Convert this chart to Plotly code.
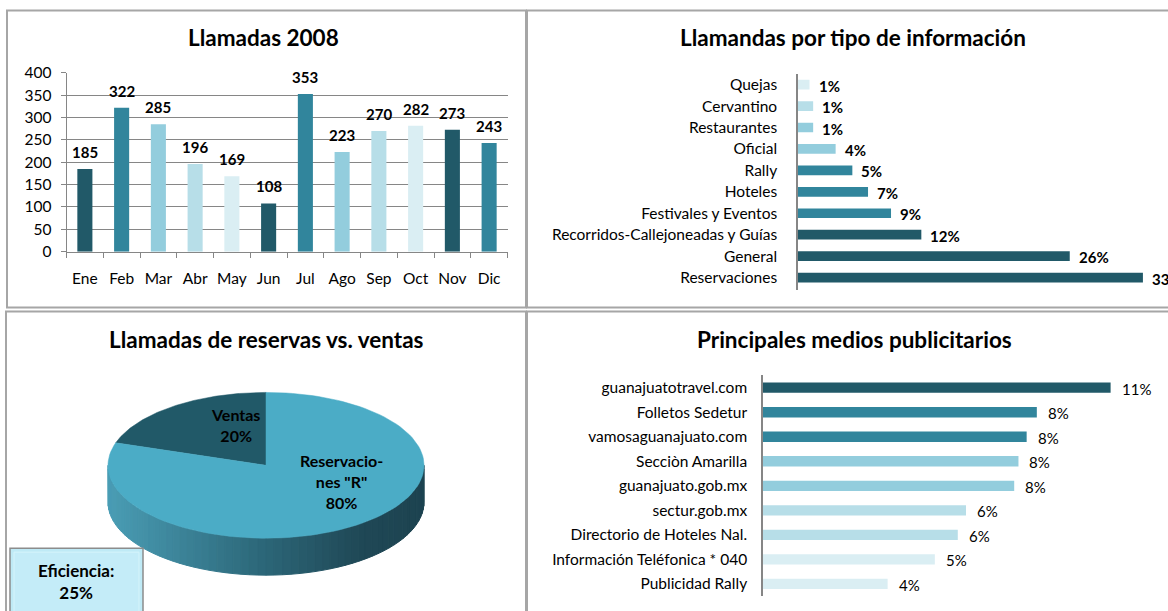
import numpy as np
import plotly.graph_objects as go

W, H = 1168, 611
FONT = "Lato"

# ---------------- data ----------------
months = ["Ene", "Feb", "Mar", "Abr", "May", "Jun", "Jul", "Ago", "Sep", "Oct", "Nov", "Dic"]
calls_2008 = [185, 322, 285, 196, 169, 108, 353, 223, 270, 282, 273, 243]

info_types = ["Reservaciones", "General", "Recorridos-Callejoneadas y Guías", "Festivales y Eventos",
              "Hoteles", "Rally", "Oficial", "Restaurantes", "Cervantino", "Quejas"]
info_share = [33.0, 26.0, 11.8, 8.9, 6.7, 5.2, 3.6, 1.45, 1.45, 1.1]

pie_labels = ["Ventas", "Reservacio-<br>nes \"R\""]
pie_values = [20, 80]
efficiency_pct = 25

media = ["Publicidad Rally", "Información Teléfonica * 040", "Directorio de Hoteles Nal.", "sectur.gob.mx",
         "guanajuato.gob.mx", "Secciòn Amarilla", "vamosaguanajuato.com", "Folletos Sedetur",
         "guanajuatotravel.com"]
media_share = [3.8, 5.24, 5.94, 6.19, 7.66, 7.79, 8.04, 8.35, 10.6]

# ---------------- styles ----------------
DARK, MID, LIGHT, LIGHTER, LIGHTEST = "#215968", "#31859C", "#93CDDD", "#B7DEE8", "#DAEEF3"
month_colors = [DARK, MID, LIGHT, LIGHTER, LIGHTEST] * 2 + [DARK, MID]
info_colors = [DARK, DARK, DARK, MID, MID, MID, LIGHT, LIGHT, LIGHTER, LIGHTEST]
media_colors = [LIGHTEST, LIGHTEST, LIGHTER, LIGHTER, LIGHT, LIGHT, MID, MID, DARK]
PIE_COLORS = [DARK, "#4BACC6"]
AXIS = "#868686"
TITLE_SIZE = 22.5
TICK_SIZE = 15.5
LABEL_SIZE = 15

# vertical placement calibration (observed rendering offset/scale)
OFF, SC = 9.0, 0.972


def xp(px):
    return px / W


def yp(py):
    return 1 - (py - OFF) / SC / H


fig = go.Figure()

fig.add_trace(go.Bar(x=months, y=calls_2008, marker=dict(color=month_colors, line=dict(width=0)),
                     width=0.41, xaxis="x", yaxis="y", hoverinfo="x+y"))
fig.add_trace(go.Bar(y=info_types, x=info_share, orientation="h", width=0.45,
                     marker=dict(color=info_colors, line=dict(width=0)), xaxis="x2", yaxis="y2"))
fig.add_trace(go.Bar(y=media, x=media_share, orientation="h", width=0.42,
                     marker=dict(color=media_colors, line=dict(width=0)), xaxis="x3", yaxis="y3"))

# ---- 3D-looking pie built from the values ----
cx, cy, rx, ry, depth = 266, 465, 158, 73, 37
total = sum(pie_values)
angles = [90.0]
for v in pie_values:
    angles.append(angles[-1] + 360.0 * v / total)


def ell(a_deg, dy=0.0):
    a = np.radians(a_deg)
    return cx + rx * np.cos(a), cy - ry * np.sin(a) + dy


def lerp_color(t):
    stops = [(0.0, (0x4A, 0x9D, 0xB5)), (0.45, (0x2E, 0x6B, 0x7D)), (0.8, (0x1F, 0x48, 0x56)),
             (1.0, (0x1D, 0x43, 0x50))]
    for (t0, c0), (t1, c1) in zip(stops[:-1], stops[1:]):
        if t <= t1:
            f = (t - t0) / (t1 - t0)
            c = [int(round(c0[i] + f * (c1[i] - c0[i]))) for i in range(3)]
            return "rgb(%d,%d,%d)" % tuple(c)
    return "rgb(%d,%d,%d)" % stops[-1][1]


for i in range(len(pie_values)):
    a0, a1 = angles[i], angles[i + 1]
    for base in (0, 360):
        s0, s1 = max(a0, 180 + base), min(a1, 360 + base)
        if s1 <= s0:
            continue
        n = max(2, int((s1 - s0) / 3))
        edges = np.linspace(s0, s1, n + 1)
        for e0, e1 in zip(edges[:-1], edges[1:]):
            mid_x, _ = ell((e0 + e1) / 2)
            col = lerp_color((mid_x - (cx - rx)) / (2 * rx))
            seg = np.linspace(e0, e1, 4)
            xs = [ell(a)[0] for a in seg] + [ell(a, depth)[0] for a in seg[::-1]]
            ys = [ell(a)[1] for a in seg] + [ell(a, depth)[1] for a in seg[::-1]]
            fig.add_trace(go.Scatter(x=xs + [xs[0]], y=ys + [ys[0]], fill="toself", fillcolor=col,
                                     mode="lines", line=dict(color=col, width=1),
                                     xaxis="x4", yaxis="y4", hoverinfo="skip"))

for i in range(len(pie_values)):
    seg = np.linspace(angles[i], angles[i + 1], 120)
    xs = [cx] + [ell(a)[0] for a in seg] + [cx]
    ys = [cy] + [ell(a)[1] for a in seg] + [cy]
    fig.add_trace(go.Scatter(x=xs, y=ys, fill="toself", fillcolor=PIE_COLORS[i], mode="lines",
                             line=dict(color=PIE_COLORS[i], width=0.5), xaxis="x4", yaxis="y4",
                             hoverinfo="skip"))

tick_font = dict(family=FONT, size=TICK_SIZE, color="#000000")
layout = dict(
    width=W, height=H, margin=dict(l=0, r=0, t=0, b=0), showlegend=False, autosize=False,
    paper_bgcolor="white", plot_bgcolor="rgba(0,0,0,0)",
    font=dict(family=FONT, color="#000000"),
    xaxis=dict(domain=[xp(66.5), xp(507.5)], anchor="y", type="category", showline=True,
               linecolor=AXIS, linewidth=1, ticks="outside", ticklen=5, tickcolor=AXIS,
               tickson="boundaries", tickfont=tick_font, tickangle=0, ticklabelstandoff=13,
               showgrid=False, fixedrange=True),
    yaxis=dict(domain=[yp(251), yp(72)], anchor="x", range=[0, 400], dtick=50, showline=True,
               linecolor=AXIS, linewidth=1, ticks="outside", ticklen=5, tickcolor=AXIS,
               showgrid=True, gridcolor=AXIS, gridwidth=1, tickfont=tick_font,
               ticklabelstandoff=6, zeroline=False, fixedrange=True),
    xaxis2=dict(domain=[xp(798), 1.0], anchor="y2", range=[0, 35.4], visible=False, fixedrange=True),
    yaxis2=dict(domain=[yp(289), yp(73)], anchor="x2", type="category", showline=True,
                linecolor=AXIS, linewidth=1.5, ticks="", tickfont=tick_font, ticklabelstandoff=16,
                showgrid=False, fixedrange=True),
    xaxis3=dict(domain=[xp(763), 1.0], anchor="y3", range=[0, 12.35], visible=False, fixedrange=True),
    yaxis3=dict(domain=[yp(596), yp(375)], anchor="x3", type="category", showline=True,
                linecolor=AXIS, linewidth=1.5, ticks="", tickfont=tick_font, ticklabelstandoff=11,
                showgrid=False, fixedrange=True),
    xaxis4=dict(domain=[0, xp(526)], anchor="y4", range=[0, 526], visible=False, fixedrange=True),
    yaxis4=dict(domain=[0, yp(312)], anchor="x4", range=[OFF + SC * H, 312], visible=False,
                fixedrange=True),
)
fig.update_layout(**layout)

annotations = []
for txt, x, y in [("Llamadas 2008", 263, 37), ("Llamandas por tipo de información", 853, 37),
                  ("Llamadas de reservas vs. ventas", 266, 339), ("Principales medios publicitarios", 854, 339)]:
    annotations.append(dict(text="<b>%s</b>" % txt, x=xp(x), y=yp(y), xref="paper", yref="paper",
                            xanchor="center", yanchor="middle", showarrow=False,
                            font=dict(family=FONT, size=TITLE_SIZE, color="#000000")))
for m, v in zip(months, calls_2008):
    annotations.append(dict(text="<b>%d</b>" % v, x=m, y=v, xref="x", yref="y", yanchor="bottom",
                            yshift=6, showarrow=False, font=dict(family=FONT, size=LABEL_SIZE, color="#000")))
for c, v in zip(info_types, info_share):
    annotations.append(dict(text="<b>%d%%</b>" % round(v), x=v, y=c, xref="x2", yref="y2",
                            xanchor="left", xshift=7, yshift=-1, showarrow=False,
                            font=dict(family=FONT, size=LABEL_SIZE, color="#000")))
for c, v in zip(media, media_share):
    annotations.append(dict(text="%d%%" % round(v), x=v, y=c, xref="x3", yref="y3",
                            xanchor="left", xshift=9, yshift=-1, showarrow=False,
                            font=dict(family=FONT, size=LABEL_SIZE, color="#000")))
pie_label_pos = [(235, 425), (341, 481)]
for lab, v, (px_, py_) in zip(pie_labels, pie_values, pie_label_pos):
    annotations.append(dict(text="<b>%s<br>%d%%</b>" % (lab, v), x=px_, y=py_, xref="x4", yref="y4",
                            showarrow=False, align="center",
                            font=dict(family=FONT, size=16, color="#000")))
annotations.append(dict(text="<b>Eficiencia:<br>%d%%</b>" % efficiency_pct, x=xp(76), y=yp(581),
                        xref="paper", yref="paper", xanchor="center", yanchor="middle",
                        showarrow=False, align="center",
                        font=dict(family=FONT, size=17, color="#000")))
fig.update_layout(annotations=annotations)

shapes = []
border = dict(color="#A6A6A6", width=2)
for x0, y0, x1, y1 in [(7, 9.5, 526, 307), (527, 9.5, 1172, 307), (6, 311, 526, 625), (527, 311, 1172, 625)]:
    shapes.append(dict(type="rect", xref="paper", yref="paper", x0=xp(x0), x1=xp(x1), y0=yp(y1), y1=yp(y0),
                       line=border, fillcolor="rgba(0,0,0,0)", layer="below"))
shapes.append(dict(type="rect", xref="paper", yref="paper", x0=xp(10), x1=xp(143), y0=yp(625), y1=yp(548),
                   line=dict(color="#8C8C8C", width=1.5), fillcolor="#BFEAF6", layer="above"))
shapes.append(dict(type="rect", xref="paper", yref="paper", x0=xp(14), x1=xp(139), y0=yp(625), y1=yp(552),
                   line=dict(color="#D6F4FB", width=1), fillcolor="#C4ECF8", layer="above"))
fig.update_layout(shapes=shapes)

page_fix = ("document.documentElement.style.margin='0';document.body.style.margin='0';"
            "document.body.style.padding='0';document.body.style.overflow='hidden';"
            "document.documentElement.style.overflow='hidden';"
            "var gd=document.querySelector('.plotly-graph-div');"
            "gd.style.position='fixed';gd.style.top='0px';gd.style.left='0px';")
fig.write_html("out.html", post_script=page_fix, config={"displayModeBar": False})
